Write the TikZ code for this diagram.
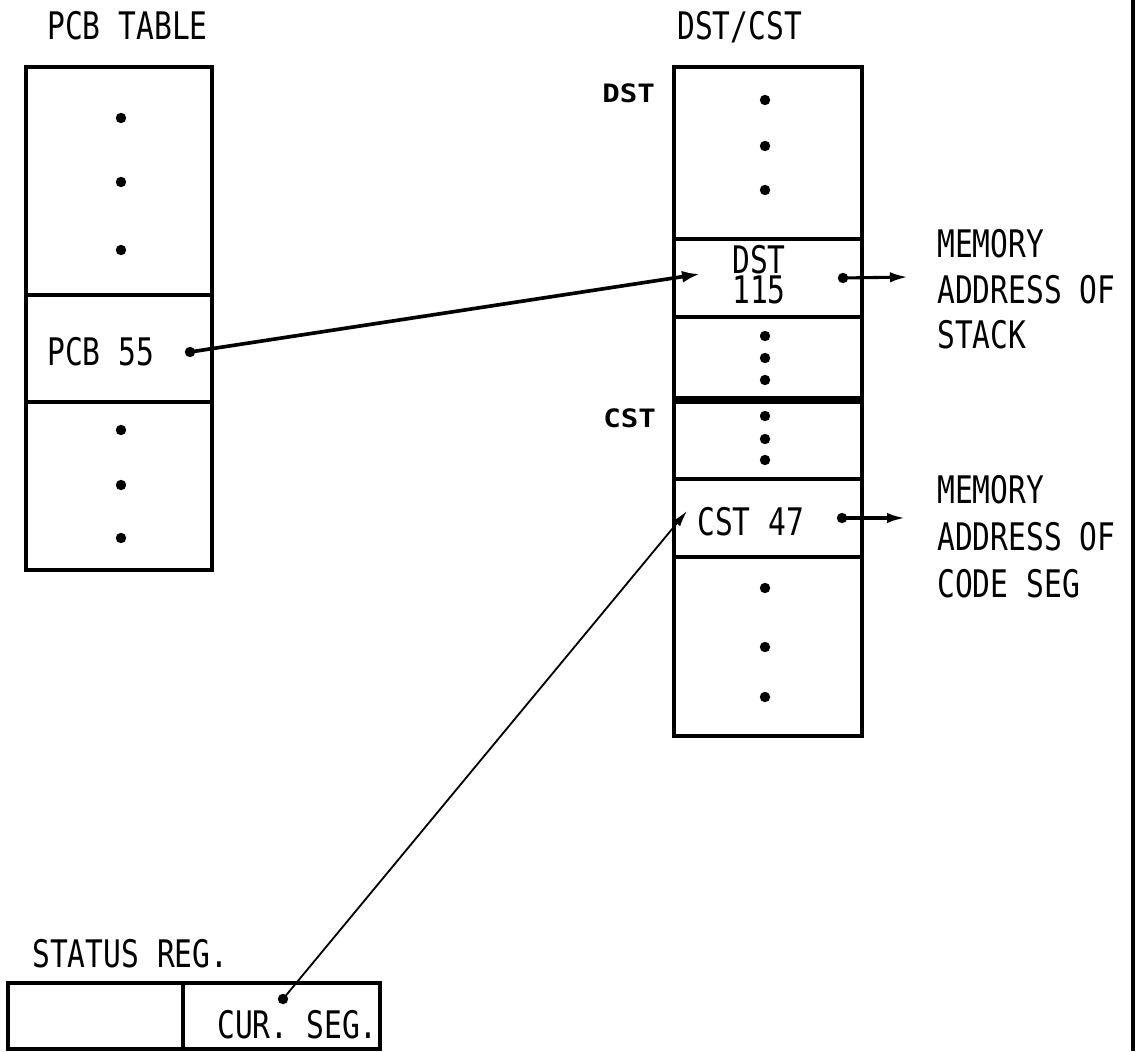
\documentclass[tikz,border=0pt]{standalone}
\usepackage{fontspec}
\setmainfont{DejaVu Sans Mono}[FakeStretch=0.78]
\newfontfamily\tagfont{DejaVu Sans Mono}[FakeStretch=1.15]
\usetikzlibrary{arrows.meta}
\tikzset{
  px/.style={x=0.025cm, y=-0.025cm},
  cellbox/.style={line width=2.6pt},
  cellrule/.style={line width=2.4pt},
  splitrule/.style={line width=5.6pt},
  bullet/.style={circle, fill, inner sep=0pt, minimum size=0.26cm},
  plottext/.style={font=\fontsize{27}{32}\selectfont, inner sep=0pt, anchor=base west},
  sidetag/.style={font=\tagfont\bfseries\fontsize{18}{21}\selectfont, inner sep=0pt, anchor=base west},
  linkarrow/.style={line width=2.6pt, -{Latex[length=0.45cm, width=0.3cm]}},
  memarrow/.style={line width=2.2pt, -{Latex[length=0.45cm, width=0.26cm]}},
  thinarrow/.style={line width=1.3pt, -{Latex[length=0.4cm, width=0.22cm]}}
}

\begin{document}
\begin{tikzpicture}[px]
  \useasboundingbox (0,0) rectangle (1142,1051);
  % frame line on the right
  \draw[line width=3.2pt] (1133,0) -- (1133,1051);

  % PCB table
  \node[plottext] (pcbtitle) at (47,40) {PCB TABLE};
  \draw[cellbox] (26,67) rectangle (212,570);
  \draw[cellrule] (26,295) -- (212,295);
  \draw[cellrule] (26,402) -- (212,402);
  \foreach \y in {118,182,250,430,485,538}
    \fill (121,\y) circle (0.13cm);
  \node[plottext] (pcb55) at (47,365) {PCB 55};
  \node[bullet] (pcbdot) at (190,352) {};

  % DST/CST table
  \node[plottext] (dsttitle) at (677,40) {DST/CST};
  \node[sidetag] (dsttag) at (602,103) {DST};
  \node[sidetag] (csttag) at (603,427) {CST};
  \draw[cellbox] (674,67) rectangle (862,736);
  \foreach \y in {239,317,479,557}
    \draw[cellrule] (674,\y) -- (862,\y);
  \draw[splitrule] (674,400) -- (862,400);
  \foreach \y in {100,146,190,336,358,380,416,439,460,588,647,697}
    \fill (765,\y) circle (0.13cm);
  \node[plottext] (dst115a) at (732,273) {DST};
  \node[plottext] (dst115b) at (732,303) {115};
  \node[plottext] (cst47) at (697,535) {CST 47};
  \coordinate (dstin) at (700,274);
  \coordinate (cstin) at (687,511);

  % memory addresses
  \node[bullet] (stackdot) at (843,278) {};
  \coordinate (stackend) at (908,277);
  \node[plottext] (stack1) at (937,257) {MEMORY};
  \node[plottext] (stack2) at (937,303) {ADDRESS OF};
  \node[plottext] (stack3) at (937,348) {STACK};
  \node[bullet] (codedot) at (842,518) {};
  \coordinate (codeend) at (905,518);
  \node[plottext] (code1) at (937,503) {MEMORY};
  \node[plottext] (code2) at (937,550) {ADDRESS OF};
  \node[plottext] (code3) at (937,597) {CODE SEG};

  % status register
  \node[plottext] (statustitle) at (32,967) {STATUS REG.};
  \draw[cellbox] (8,983) rectangle (380,1049);
  \draw[cellrule] (183,983) -- (183,1049);
  \node[plottext] (curseg) at (217,1038) {CUR. SEG.};
  \node[bullet] (segdot) at (283,999) {};

  % connectors
  \draw[linkarrow] (pcbdot.center) -- (dstin);
  \draw[memarrow] (stackdot.center) -- (stackend);
  \draw[memarrow] (codedot.center) -- (codeend);
  \draw[thinarrow] (segdot.center) -- (cstin);
\end{tikzpicture}
\end{document}
